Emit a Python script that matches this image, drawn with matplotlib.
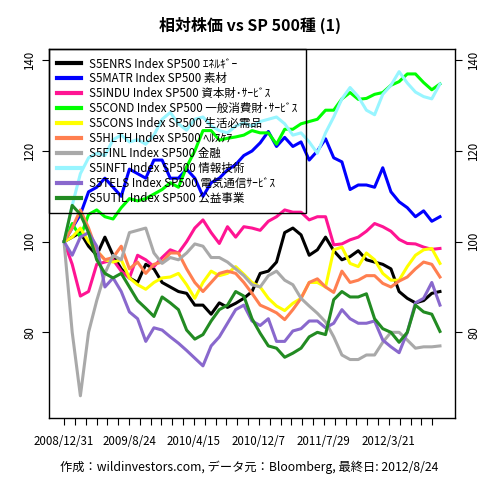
import numpy as np
import matplotlib
matplotlib.use("Agg")
import matplotlib.pyplot as plt

plt.rcParams['font.family'] = ['Noto Sans CJK JP', 'DejaVu Sans']

# 営業日インデックス (2008/12/31 = 0, 20営業日おき)
days = np.arange(0, 921, 20)

enrs = [100, 101, 102, 99, 97, 101, 97, 94, 92, 91, 95, 94, 91, 90, 89, 88.6,
        86, 86, 84, 86.5, 85.5, 86.4, 87.5, 89, 93, 93.5, 95.5, 102, 103, 101.5,
        97, 98.2, 101, 98, 96, 96.7, 98, 96, 95.5, 95, 94, 89, 87.5, 86.5, 87,
        88.6, 89]
matr = [100, 103, 106, 111, 112, 114, 112, 110, 116, 115, 114, 118, 118, 114,
        114, 116, 114, 110, 113, 114, 115.8, 117, 119, 120, 121.8, 124.3, 121,
        123, 121, 122, 118, 120, 122.7, 118.5, 117.6, 111.5, 112.5, 112.5, 112,
        116.3, 111, 108.8, 107.5, 105.5, 106.8, 104.5, 105.5]
indu = [100, 95, 88, 89, 95, 95.5, 96, 93.5, 92, 97, 96, 94.5, 96.5, 98.2,
        97.5, 100, 103, 104.8, 102, 99.6, 103.3, 101, 103.3, 103, 102.5, 104.5,
        105.5, 107, 106.5, 106.5, 104.8, 105.5, 105.5, 99.3, 99.5, 100.4, 101,
        102.3, 104, 103.3, 102.3, 100.5, 99.6, 99.5, 98.8, 98.3, 98.5]
cond = [100, 104, 101, 106, 107, 105.5, 105, 107.5, 109.5, 109, 109.5, 110.5,
        111.5, 113, 112, 116.5, 120, 124.5, 124.5, 122.4, 122.8, 123.1, 123.5,
        124.5, 124, 124, 121.5, 124.8, 124.8, 126, 126.5, 127, 129, 129, 131.5,
        132.9, 131.4, 131.6, 132.5, 132.9, 134.5, 135.3, 137, 137, 135.1, 133.5,
        134.8]
cons = [100, 101, 103, 100, 98, 96, 95.5, 96, 92, 90.5, 89.5, 91, 92, 92.2, 93,
        90.5, 87.5, 91, 93.5, 92.5, 93, 94.5, 92.8, 91, 90, 87.5, 85.8, 84.8,
        86.4, 87.5, 91, 91, 90, 98.2, 98.8, 95.2, 94.5, 97.5, 96, 93, 91.5, 91.5,
        94.5, 97, 98.2, 98.5, 95.2]
hlth = [100, 103, 107, 103, 98, 96, 96.5, 99, 94, 95.5, 93, 95, 95.5, 97.5,
        97.5, 94, 91, 89, 91, 93, 93.5, 93, 91, 88.6, 86, 85.2, 84.3, 82.8, 85,
        87.5, 91, 91.8, 90, 88.8, 93.5, 91, 91.5, 92.5, 92.5, 90.8, 90, 91.3,
        92.2, 94, 95.5, 95, 92.2]
finl = [100, 80, 66, 80, 87, 93, 97, 96, 102, 102.5, 103, 97.5, 95.2, 96.5, 96,
        97.5, 99.5, 99, 96.5, 96.5, 95.5, 94, 92.5, 90.5, 90, 92.5, 93.5, 91.5,
        90.5, 87.5, 85.8, 84.2, 82.3, 79, 75, 74, 74, 75, 75, 77.8, 80, 80, 78.3,
        76.5, 76.8, 76.8, 77]
inft = [100, 108, 115, 118.5, 119.5, 119, 122.5, 123.5, 122, 122.5, 121.5,
        123.5, 127, 128.5, 126, 124.6, 127, 127.5, 125.5, 124.5, 124, 125.5,
        126.2, 125.5, 126.5, 127, 127.5, 126, 123.5, 124, 122, 119.5, 124, 127.5,
        131.5, 134, 132, 129, 128, 132.5, 134.5, 137.5, 135, 133, 132, 131.5,
        134.8]
tels = [100, 97, 101, 102, 99, 90, 92, 89, 84.5, 83, 78, 81, 80.5, 79, 77.6, 76,
        74.3, 72.6, 77, 79, 82, 85, 86, 82.5, 81.5, 83, 78, 78, 80.3, 80.8, 82.5,
        82.5, 81, 82, 85, 83, 82, 82, 82.5, 78.3, 76.8, 75.5, 80, 86.5, 87.5, 91,
        86]
util = [100, 108, 106, 102, 96, 93, 92, 93, 90, 87, 85.3, 83.5, 87.8, 86.5, 85,
        80.5, 78.5, 79.5, 82.5, 85, 86, 89, 88, 83, 79.8, 77, 76.5, 74.5, 75.4,
        76.5, 79, 80, 79.5, 87.2, 89, 87.8, 87.8, 88.5, 83, 80.8, 80, 77.8, 80,
        86, 84.5, 84, 80.2]

series = [enrs, matr, indu, cond, cons, hlth, finl, inft, tels, util]
labels = ["S5ENRS Index SP500 ｴﾈﾙｷﾞｰ",
          "S5MATR Index SP500 素材",
          "S5INDU Index SP500 資本財･ｻｰﾋﾞｽ",
          "S5COND Index SP500 一般消費財･ｻｰﾋﾞｽ",
          "S5CONS Index SP500 生活必需品",
          "S5HLTH Index SP500 ﾍﾙｽｹｱ",
          "S5FINL Index SP500 金融",
          "S5INFT Index SP500 情報技術",
          "S5TELS Index SP500 電気通信ｻｰﾋﾞｽ",
          "S5UTIL Index SP500 公益事業"]
colors = ["#000000", "#0000FF", "#FF1493", "#00FF00", "#FFFF00",
          "#FF7F50", "#A9A9A9", "#98F5FF", "#8968CD", "#228B22"]

date_labels = ["2008/12/31", "2009/8/24", "2010/4/15", "2010/12/7",
               "2011/7/29", "2012/3/21"]

fig = plt.figure(figsize=(4.8, 4.8), dpi=100)
ax = fig.add_axes([49/480, 62/480, 406/480, 369/480])

for s, lab, c in zip(series, labels, colors):
    ax.plot(days, s, color=c, lw=2.2, label=lab)

ax.set_xlim(-36.8, 956.8)
ax.set_ylim(61.1, 142.5)

# 目盛り
ticks = np.arange(35) * 26.5
ax.set_xticks(ticks)
ax.set_xticklabels([date_labels[i // 6] if i % 6 == 0 else "" for i in range(35)])
ax.set_yticks([80, 100, 120, 140])
ax.tick_params(axis='both', direction='out', length=5, width=0.8, labelsize=8.3)
ax.tick_params(axis='x', pad=7)
ax.tick_params(axis='y', right=True, labelright=True, labelrotation=90, pad=4)
for t in ax.get_yticklabels():
    t.set_va('center')

for sp in ax.spines.values():
    sp.set_linewidth(1)
    sp.set_color('black')

leg = ax.legend(loc='upper left', bbox_to_anchor=(0, 1), borderaxespad=0,
                fontsize=8.3, handlelength=2.1, handletextpad=0.7,
                labelspacing=0.17, borderpad=0.7, fancybox=False,
                framealpha=1)
leg.get_frame().set_facecolor('none')
leg.get_frame().set_edgecolor('black')
leg.get_frame().set_linewidth(1)
for h in leg.get_lines():
    h.set_linewidth(3)

fig.text(0.52, 1 - 25/480, "相対株価 vs SP 500種 (1)", ha='center', va='center',
         fontsize=11.5, fontweight='bold')
fig.text(0.52, 1 - 467/480, "作成：wildinvestors.com, データ元：Bloomberg, 最終日: 2012/8/24",
         ha='center', va='center', fontsize=8.8)

fig.savefig("out.png", dpi=100)
